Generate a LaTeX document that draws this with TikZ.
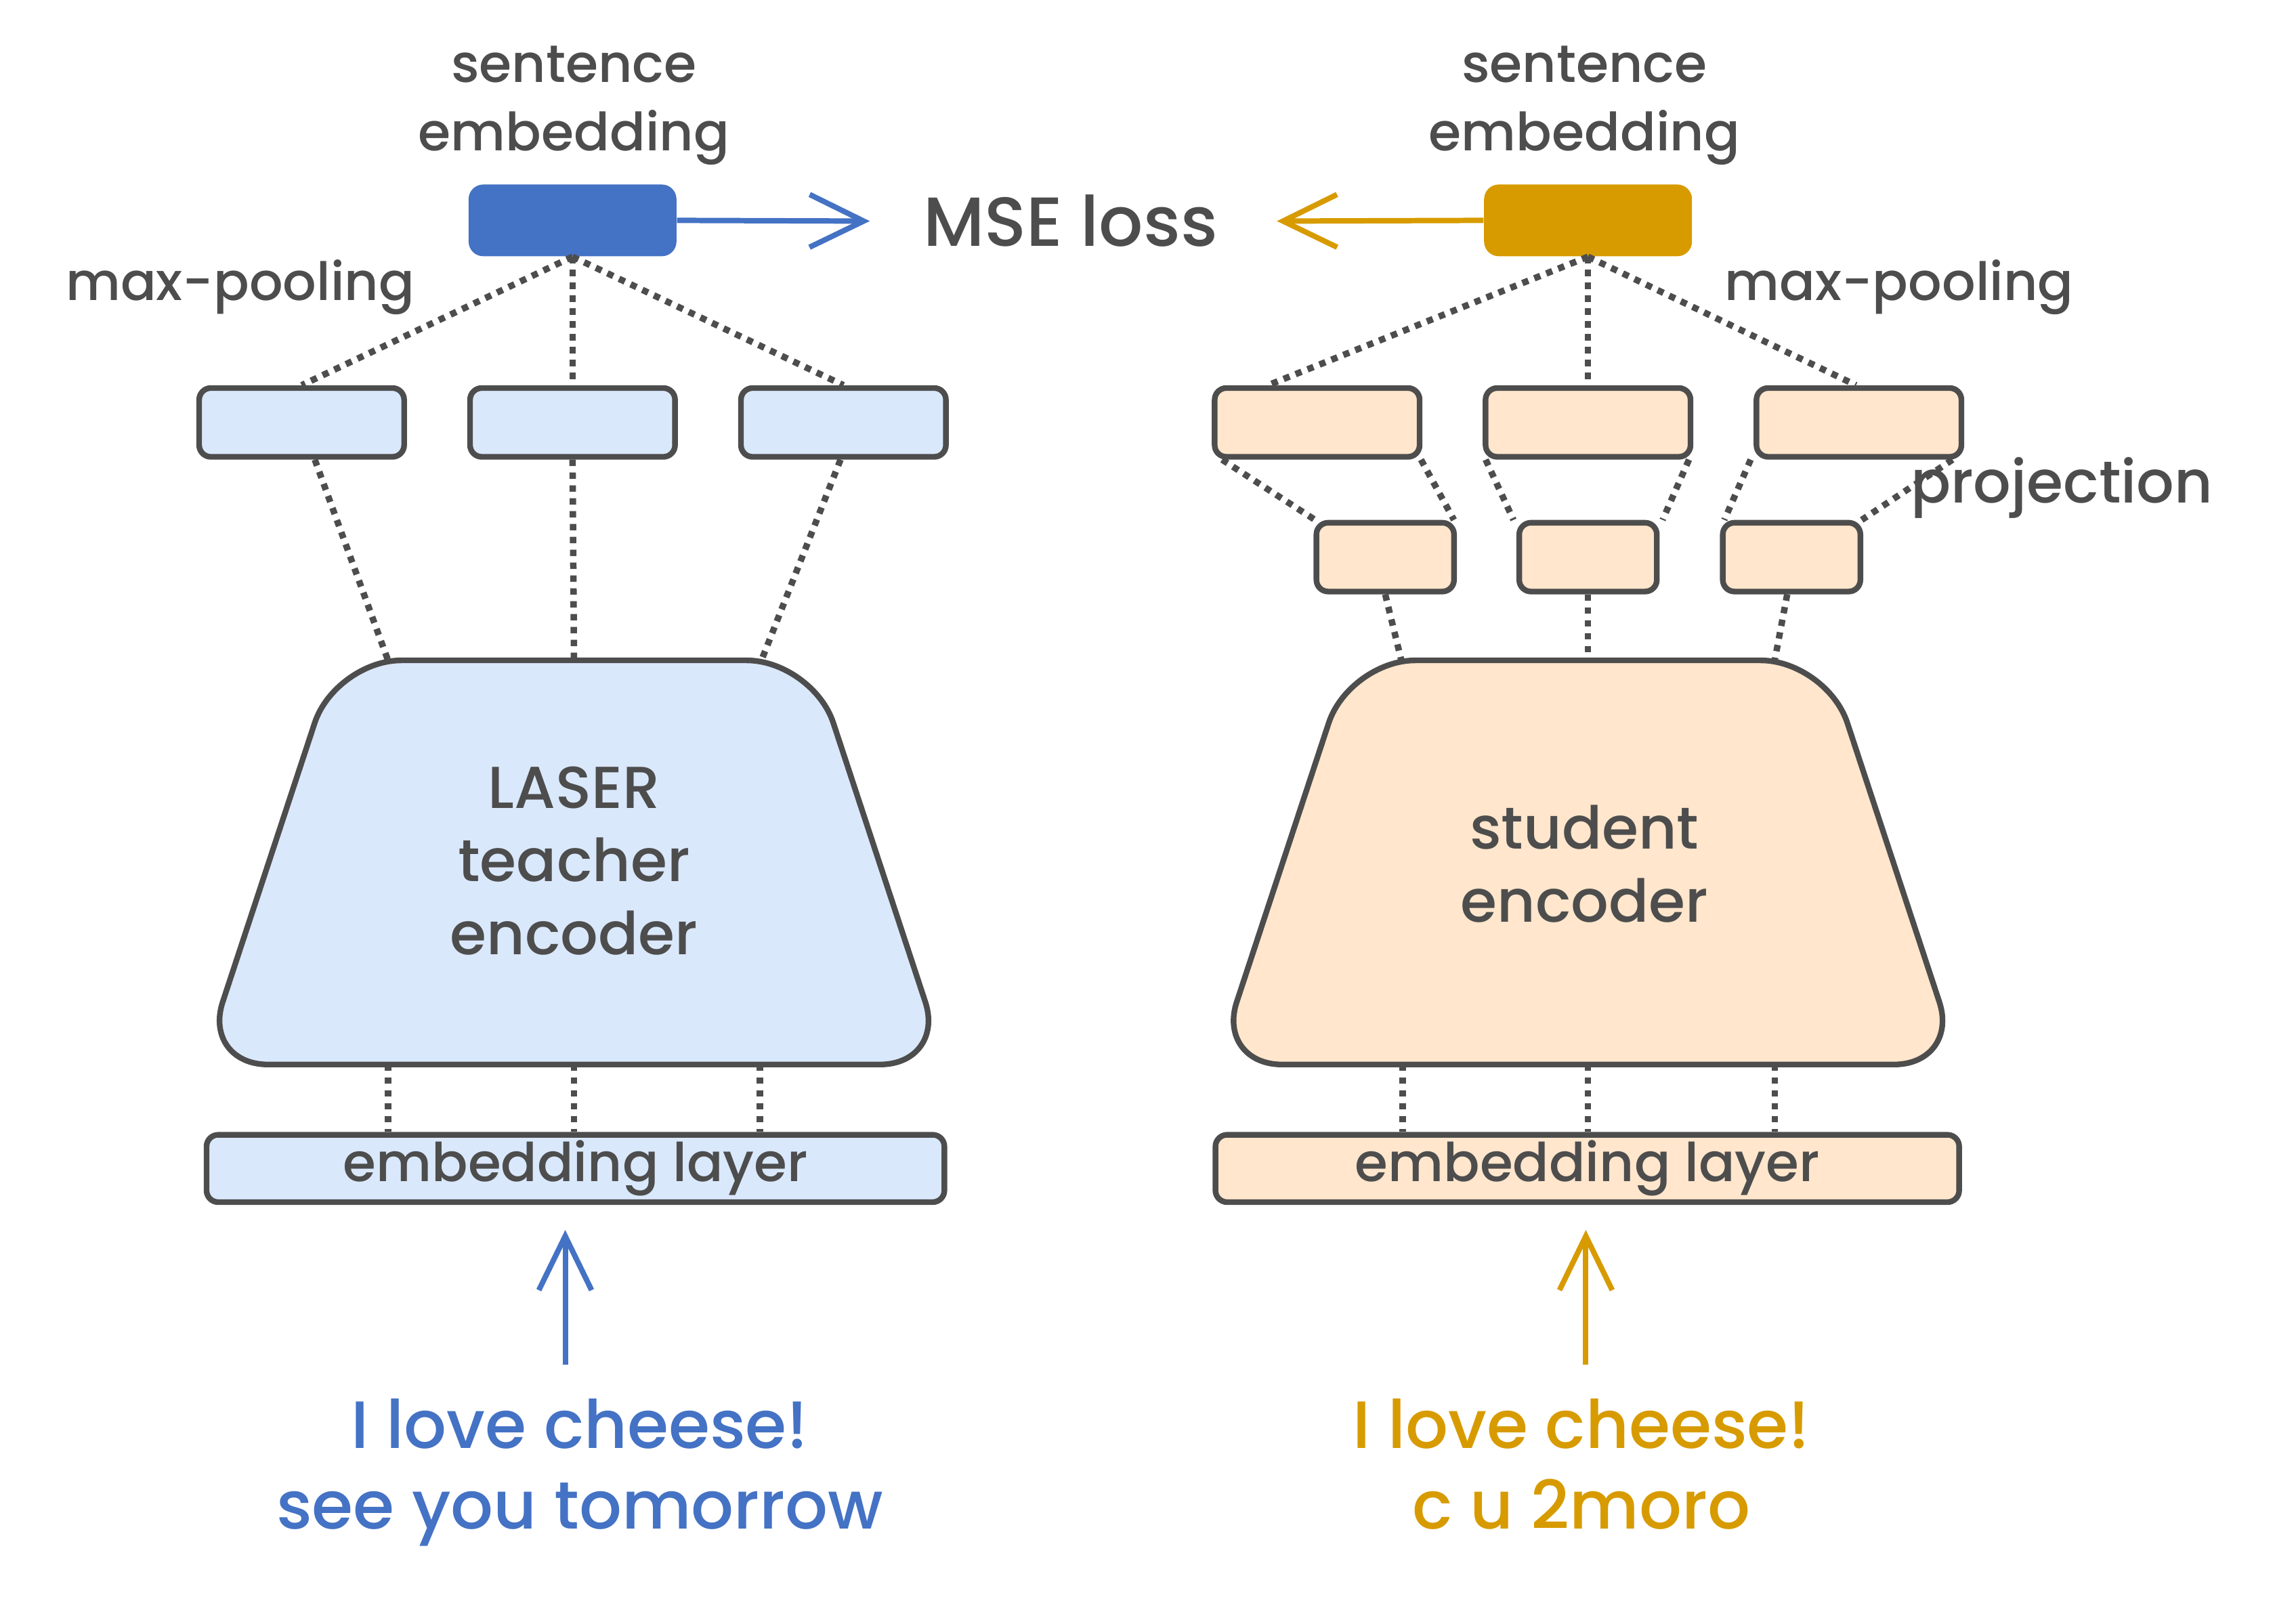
\documentclass[tikz,border=0pt]{standalone}
\usepackage{fontspec}
\setmainfont{Poppins Medium}
\usetikzlibrary{arrows.meta}
\definecolor{gc}{HTML}{4D4D4D}
\definecolor{tblue}{HTML}{4472C4}
\definecolor{torange}{HTML}{D79B00}
\definecolor{lblue}{HTML}{DAE8FC}
\definecolor{lorange}{HTML}{FFE6CC}
\begin{document}
\begin{tikzpicture}[x=0.02cm, y=-0.02cm,
  box/.style={draw=gc, line width=2.2pt, rounded corners=0.16cm, inner sep=0pt},
  hid/.style={minimum width=2.8cm, minimum height=0.94cm},
  proj/.style={minimum width=1.88cm, minimum height=0.94cm},
  emb/.style={minimum height=0.92cm, font=\fontsize{20.8}{24}\selectfont, text=gc},
  sent/.style={rounded corners=0.2cm, minimum width=2.84cm, minimum height=0.98cm, inner sep=0pt},
  dots/.style={draw=gc, line width=2.5pt, dash pattern=on 2.5pt off 2.5pt},
  lbl/.style={text=gc, font=\fontsize{20.5}{26.7}\selectfont, align=center, inner sep=0pt},
  big/.style={text=gc, font=\fontsize{23}{28.5}\selectfont, align=center, inner sep=0pt},
  inp/.style={font=\fontsize{26}{31.3}\selectfont, align=center, inner sep=0pt, text depth=7pt},
  arr/.style={line width=2.1pt, -{Straight Barb[length=21pt,width=20.5pt]}},
  trap/.style={draw=gc, line width=2.2pt, rounded corners=0.9cm, line join=round}
]
\useasboundingbox (0,0) rectangle (1568,1092);

% ---------- left (teacher) ----------
\node[sent, fill=tblue] (sL) at (391,150.5) {};
\node[lbl] (seL) at (392,72) {sentence\\embedding};
\node[lbl] (mpL) at (164,196) {max-pooling};
\node[box, hid, fill=lblue] (hL1) at (206,288.5) {};
\node[box, hid, fill=lblue] (hL2) at (391,288.5) {};
\node[box, hid, fill=lblue] (hL3) at (576,288.5) {};
\draw[trap, fill=lblue] (229,451) -- (555,451) -- (646,727) -- (138,727) -- cycle;
\node[big] (encL) at (392,588) {LASER\\teacher\\encoder};
\coordinate (tL1) at (265,451); \coordinate (tL2) at (392,451); \coordinate (tL3) at (520,451);
\coordinate (bL1) at (265,727); \coordinate (bL2) at (392,727); \coordinate (bL3) at (519,727);
\node[box, emb, fill=lblue, minimum width=10.08cm] (eL) at (393,798) {embedding layer};
\node[inp, text=tblue] (inL) at (396,1006) {I love cheese!\\see you tomorrow};
\coordinate (aL) at (386,932);
\coordinate (aLt) at (386,840);

\draw[dots] (sL.south) -- (hL1.north);
\draw[dots] (sL.south) -- (hL2.north);
\draw[dots] (sL.south) -- (hL3.north);
\draw[dots] ([xshift=0.18cm]hL1.south) -- (tL1);
\draw[dots] (hL2.south) -- (tL2);
\draw[dots] ([xshift=-0.04cm]hL3.south) -- (tL3);
\draw[dots] (bL1) -- (eL.north -| bL1);
\draw[dots] (bL2) -- (eL.north -| bL2);
\draw[dots] (bL3) -- (eL.north -| bL3);
\draw[arr, tblue] (aL) -- (aLt);

% ---------- centre ----------
\node[text=gc, font=\fontsize{27}{30}\selectfont, inner sep=0pt] (mse) at (731,151) {MSE loss};
\coordinate (mL) at (594,151);
\coordinate (mR) at (872,151);
\draw[arr, tblue] (sL.east) -- (mL);

% ---------- right (student) ----------
\node[sent, fill=torange] (sR) at (1084.5,150.5) {};
\draw[arr, torange] (sR.west) -- (mR);
\node[lbl] (seR) at (1082,72) {sentence\\embedding};
\node[lbl] (mpR) at (1297,196) {max-pooling};
\node[box, hid, fill=lorange] (hR1) at (899.5,288.5) {};
\node[box, hid, fill=lorange] (hR2) at (1084.5,288.5) {};
\node[box, hid, fill=lorange] (hR3) at (1269.5,288.5) {};
\node[box, proj, fill=lorange] (pR1) at (946,380.5) {};
\node[box, proj, fill=lorange] (pR2) at (1084.5,380.5) {};
\node[box, proj, fill=lorange] (pR3) at (1223.5,380.5) {};
\draw[trap, fill=lorange] (921.5,451) -- (1247.5,451) -- (1338.5,727) -- (830.5,727) -- cycle;
\node[big] (encR) at (1082,590) {student\\encoder};
\coordinate (tR1) at (957,451); \coordinate (tR2) at (1084.5,451); \coordinate (tR3) at (1212,451);
\coordinate (bR1) at (958,727); \coordinate (bR2) at (1084.5,727); \coordinate (bR3) at (1212,727);
\node[box, emb, fill=lorange, minimum width=10.16cm] (eR) at (1084,798) {embedding layer};
\node[inp, text=torange] (inR) at (1080,1006) {I love cheese!\\c u 2moro};
\coordinate (aR) at (1083,932);
\coordinate (aRt) at (1083,840);

\draw[dots] (sR.south) -- ([xshift=-0.67cm]hR1.north);
\draw[dots] (sR.south) -- (hR2.north);
\draw[dots] (sR.south) -- ([xshift=-0.04cm]hR3.north);
\draw[dots] ([xshift=0.14cm]hR1.south west) -- ([xshift=0.02cm]pR1.north west);
\draw[dots] ([xshift=-0.02cm]hR1.south east) -- ([xshift=-0.04cm]pR1.north east);
\draw[dots] ([xshift=0.04cm]hR2.south west) -- ([xshift=-0.04cm]pR2.north west);
\draw[dots] ([xshift=-0.06cm]hR2.south east) -- ([xshift=0.04cm]pR2.north east);
\draw[dots] ([xshift=-0.04cm]hR3.south west) -- ([xshift=0.06cm]pR3.north west);
\draw[dots] ([xshift=-0.16cm]hR3.south east) -- ([xshift=-0.02cm]pR3.north east);
\draw[dots] (pR1.south) -- (tR1);
\draw[dots] (pR2.south) -- (tR2);
\draw[dots] ([xshift=-0.06cm]pR3.south) -- (tR3);
\draw[dots] (bR1) -- (eR.north -| bR1);
\draw[dots] (bR2) -- (eR.north -| bR2);
\draw[dots] (bR3) -- (eR.north -| bR3);
\node[lbl, font=\fontsize{23}{26}\selectfont] (prj) at (1408,333) {projection};
\draw[arr, torange] (aR) -- (aRt);
\end{tikzpicture}
\end{document}
